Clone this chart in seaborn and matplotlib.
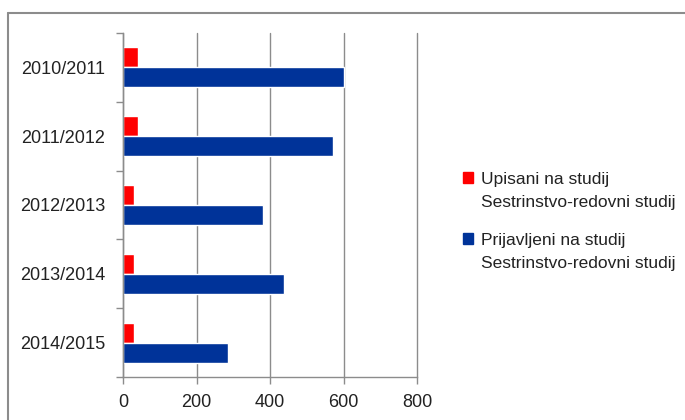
import matplotlib
matplotlib.use("Agg")
import matplotlib.pyplot as plt
from matplotlib.lines import Line2D
import seaborn as sns
import pandas as pd

years = ["2010/2011", "2011/2012", "2012/2013", "2013/2014", "2014/2015"]
upisani = [40, 40, 30, 30, 30]
prijavljeni = [600, 572, 380, 437, 286]
series_names = ["Upisani na studij\nSestrinstvo-redovni studij",
                "Prijavljeni na studij\nSestrinstvo-redovni studij"]
x_ticks = [0, 200, 400, 600, 800]

df = pd.DataFrame({
    "year": years * 2,
    "value": upisani + prijavljeni,
    "series": [series_names[0]] * len(years) + [series_names[1]] * len(years),
})

sns.set_theme(style="white")
plt.rcParams["font.family"] = ["Liberation Sans", "DejaVu Sans"]

fig = plt.figure(figsize=(6.85, 4.2), dpi=100)
ax = fig.add_axes([123 / 685, 43 / 420, 294 / 685, 344 / 420])

sns.barplot(data=df, y="year", x="value", hue="series", orient="h",
            palette=["#FF0000", "#003399"], width=0.58, saturation=1,
            order=years, hue_order=series_names, ax=ax, legend=False)

grey = "#8c8c8c"
ax.set_xlim(0, 800)
ax.set_xticks(x_ticks)
ax.set_xticklabels([str(t) for t in x_ticks])
ax.grid(axis="x", color=grey, linewidth=1)
for gl in ax.get_xgridlines():
    gl.set_clip_on(False)
ax.set_axisbelow(True)
ax.set_xlabel("")
ax.set_ylabel("")
ax.set_ylim(len(years) - 0.5, -0.5)
ax.set_yticks([i - 0.5 for i in range(len(years) + 1)], minor=True)
ax.tick_params(axis="y", which="major", length=0, pad=13, labelsize=13, colors="#222222")
ax.tick_params(axis="y", which="minor", length=5, width=1, color=grey, left=True)
ax.tick_params(axis="x", length=5, width=1, color=grey, bottom=True, pad=7,
               labelsize=13, labelcolor="#222222")
for side in ["top", "right"]:
    ax.spines[side].set_visible(False)
for side in ["left", "bottom"]:
    ax.spines[side].set_color(grey)
    ax.spines[side].set_linewidth(1)

handles = [plt.Rectangle((0, 0), 1, 1, color=c) for c in ["#FF0000", "#003399"]]
leg = fig.legend(handles, series_names, loc="upper left",
                 bbox_to_anchor=(463 / 685, 248 / 420), frameon=False,
                 fontsize=12.5, handlelength=0.6, handleheight=0.6,
                 handletextpad=0.45, labelspacing=1.3, borderpad=0,
                 borderaxespad=0)
for t in leg.get_texts():
    t.set_linespacing(1.7)
    t.set_color("#222222")
for col in leg._legend_handle_box.get_children():
    for row in col.get_children():
        row.align = "top"

# chart frame
fig.add_artist(Line2D([8 / 685, 8 / 685], [0, 1 - 13 / 420], color=grey, lw=1.5))
fig.add_artist(Line2D([8 / 685, 1], [1 - 13 / 420, 1 - 13 / 420], color=grey, lw=1.5))

fig.savefig("out.png", dpi=100)
